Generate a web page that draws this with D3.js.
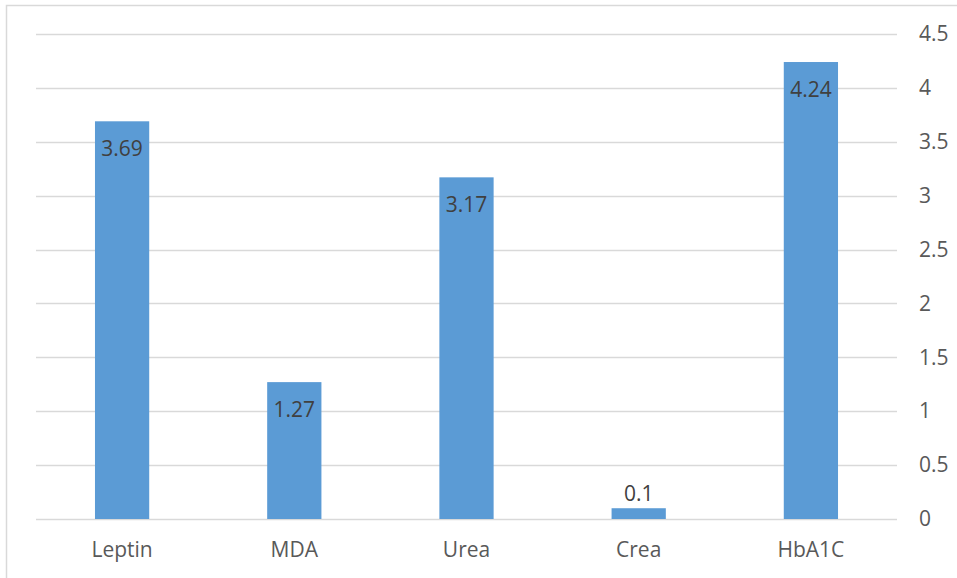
<!DOCTYPE html>
<html>
<head>
<meta charset="utf-8">
<script src="https://cdn.jsdelivr.net/npm/d3@7"></script>
<style>
  html, body { margin: 0; padding: 0; background: #fff; }
  svg { display: block; }
</style>
</head>
<body>
<svg id="chart" width="957" height="578"></svg>
<script>
const categories = ["Leptin", "MDA", "Urea", "Crea", "HbA1C"];
const values = [3.69, 1.27, 3.17, 0.1, 4.24];
const tickValues = [0, 0.5, 1, 1.5, 2, 2.5, 3, 3.5, 4, 4.5];

const svg = d3.select("#chart");
const font = "'Open Sans', 'Noto Sans', sans-serif";
const fontSize = 21;

// chart frame
svg.append("rect")
  .attr("x", 6.5).attr("y", 5.5)
  .attr("width", 1000).attr("height", 700)
  .attr("fill", "none").attr("stroke", "#d9d9d9").attr("stroke-width", 1.5);

const plot = { left: 36, right: 897, top: 34, bottom: 519 };

const x = d3.scaleBand().domain(categories).range([plot.left, plot.right]).padding(0);
const y = d3.scaleLinear().domain([0, 4.5]).range([plot.bottom, plot.top]);
const barW = x.bandwidth() * 0.315;

// gridlines
svg.append("g").selectAll("line").data(tickValues).join("line")
  .attr("x1", plot.left).attr("x2", plot.right)
  .attr("y1", d => Math.round(y(d)) + 0.5).attr("y2", d => Math.round(y(d)) + 0.5)
  .attr("stroke", "#d9d9d9").attr("stroke-width", 1.5);

// right-hand value axis labels
const yAxis = d3.axisRight(y).tickValues(tickValues).tickSize(0).tickPadding(0)
  .tickFormat(d => String(d));
svg.append("g").attr("transform", `translate(919,0)`).call(yAxis)
  .call(g => g.select(".domain").remove())
  .selectAll("text")
  .attr("font-family", font).attr("font-size", fontSize).attr("fill", "#595959");

// bars
svg.append("g").selectAll("rect").data(values).join("rect")
  .attr("x", (d, i) => x(categories[i]) + x.bandwidth() / 2 - barW / 2)
  .attr("width", barW)
  .attr("y", d => y(d))
  .attr("height", d => y(0) - y(d))
  .attr("fill", "#5b9bd5");

// data labels: inside the bar end, or just above when the bar is too short
svg.append("g").selectAll("text").data(values).join("text")
  .attr("x", (d, i) => x(categories[i]) + x.bandwidth() / 2)
  .attr("y", d => (y(0) - y(d) > 40) ? y(d) + 35 : y(d) - 7)
  .attr("text-anchor", "middle")
  .attr("font-family", font).attr("font-size", fontSize).attr("fill", "#404040")
  .text(d => String(d));

// category axis labels
const xAxis = d3.axisBottom(x).tickSize(0).tickPadding(0);
svg.append("g").attr("transform", `translate(0,557)`).call(xAxis)
  .call(g => g.select(".domain").remove())
  .selectAll("text")
  .attr("dy", 0)
  .attr("font-family", font).attr("font-size", fontSize).attr("fill", "#595959");
</script>
</body>
</html>
